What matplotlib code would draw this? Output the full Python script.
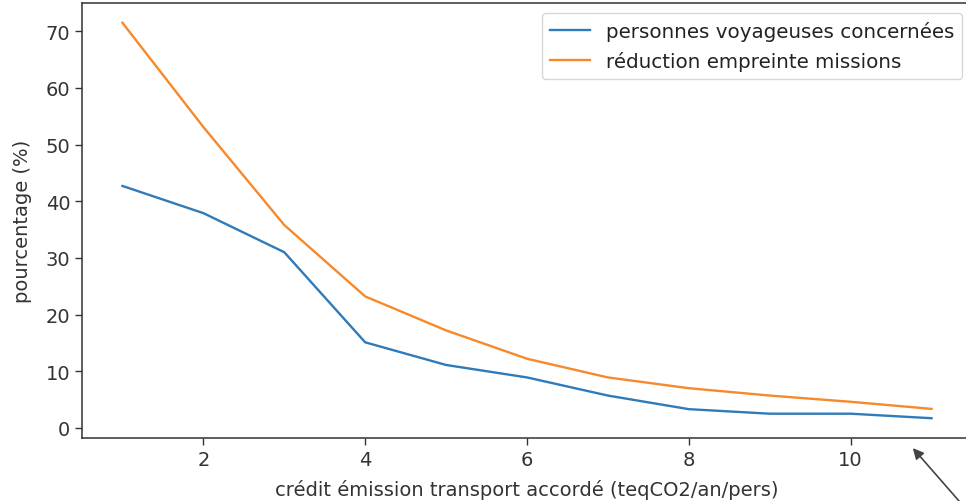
import matplotlib
matplotlib.use("Agg")
import matplotlib.pyplot as plt

credit = [1, 2, 3, 4, 5, 6, 7, 8, 9, 10, 11]
voyageurs = [42.7, 37.9, 31.0, 15.1, 11.1, 8.9, 5.7, 3.3, 2.5, 2.5, 1.7]
reduction = [71.5, 53.1, 35.8, 23.2, 17.2, 12.2, 8.9, 7.0, 5.7, 4.6, 3.35]
xticks = [2, 4, 6, 8, 10]
yticks = [0, 10, 20, 30, 40, 50, 60, 70]

plt.rcParams['font.family'] = ['DejaVu Sans']
plt.rcParams['font.size'] = 14

fig = plt.figure(figsize=(9.66, 5.02), dpi=100)
ax = fig.add_axes([82/966, 63/502, 890/966, 435/502])

ax.plot(credit, voyageurs, color='#2f7ab8', lw=1.7, label='personnes voyageuses concernées')
ax.plot(credit, reduction, color='#f7892a', lw=1.7, label='réduction empreinte missions')

ax.set_xticks(xticks)
ax.set_yticks(yticks)
ax.tick_params(length=5, width=1.0, colors='#333333', labelcolor='#333333')
for s in ax.spines.values():
    s.set_linewidth(1.1)
    s.set_color('#333333')
ax.spines['right'].set_visible(False)

ax.set_xlabel('crédit émission transport accordé (teqCO2/an/pers)', color='#333333', labelpad=7)
ax.set_ylabel('pourcentage (%)', color='#333333', labelpad=10)
leg = ax.legend(loc='upper right', fontsize=14.3)
for t in leg.get_texts():
    t.set_color('#222222')

ax.annotate('', xy=(911/966, 1 - 447/502), xycoords='figure fraction',
            xytext=(966/966, 1 - 510/502), textcoords='figure fraction',
            arrowprops=dict(arrowstyle='-|>', color='#444444', lw=1.2,
                            mutation_scale=16),
            annotation_clip=False)

fig.savefig('out.png', dpi=100)
